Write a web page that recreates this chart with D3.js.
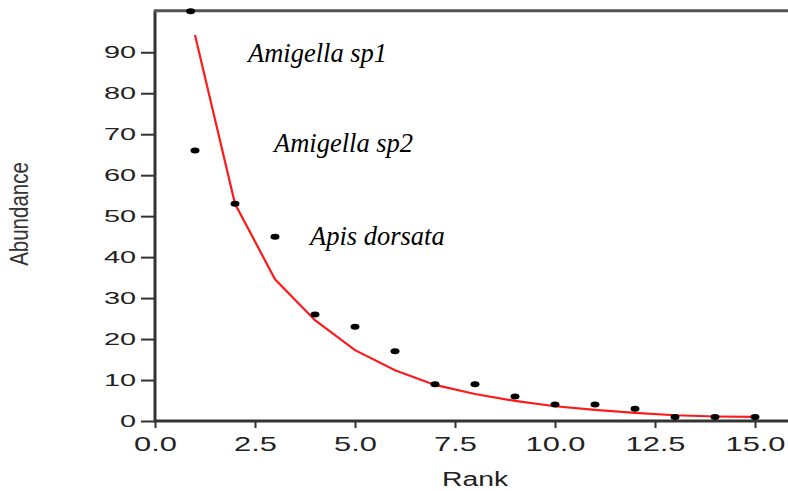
<!DOCTYPE html>
<html><head><meta charset="utf-8">
<script src="https://cdn.jsdelivr.net/npm/d3@7"></script>
<style>body{margin:0;background:#fff}svg{display:block}</style>
</head><body>
<script>
// Observed abundances (rank -> abundance)
const obsRank = [0.89, 1, 2, 3, 4, 5, 6, 7, 8, 9, 10, 11, 12, 13, 14, 15];
const obsAbund = [100, 66, 53, 45, 26, 23, 17, 9, 9, 6, 4, 4, 3, 1, 1, 1];
// Fitted model (red line)
const fitRank = [1, 2, 3, 4, 5, 6, 7, 8, 9, 10, 11, 12, 13, 14, 15];
const fitAbund = [94.2, 53, 34.6, 24.6, 17.3, 12.4, 8.8, 6.6, 4.9, 3.6, 2.7, 2.0, 1.4, 1.1, 1.0];
const xTicks = [0, 2.5, 5, 7.5, 10, 12.5, 15];
const yTicks = [0, 10, 20, 30, 40, 50, 60, 70, 80, 90];
const labelText = ["Amigella sp1", "Amigella sp2", "Apis dorsata"];
const labelRank = [2.325, 2.975, 3.875];
const labelAbund = [87.6, 65.7, 43];

const W = 788, H = 491;
const svg = d3.select("body").append("svg").attr("width", W).attr("height", H);
const x = d3.scaleLinear().domain([0, 15.8]).range([155, 787]);
const y = d3.scaleLinear().domain([0, 100]).range([421, 11.3]);
const axisColor = "#333";

// Y axis
const gy = svg.append("g").attr("transform", `translate(${x(0)},0)`)
  .call(d3.axisLeft(y).tickValues(yTicks).tickSize(14).tickPadding(5).tickFormat(d3.format("d")));
gy.select(".domain").remove();
gy.selectAll(".tick line").attr("stroke", axisColor).attr("stroke-width", 2);
gy.selectAll(".tick text").attr("font-family", "Liberation Sans, Arial, sans-serif")
  .attr("font-size", 17).attr("fill", "#222")
  .attr("transform", function(){ const xx = +d3.select(this).attr("x"); return `translate(${xx},0) scale(1.7,1) translate(${-xx},0)`; });

// X axis
const gx = svg.append("g").attr("transform", `translate(0,${y(0)})`)
  .call(d3.axisBottom(x).tickValues(xTicks).tickSize(7).tickPadding(8).tickFormat(d3.format(".1f")));
gx.select(".domain").remove();
gx.selectAll(".tick line").attr("stroke", axisColor).attr("stroke-width", 2);
gx.selectAll(".tick text").attr("font-family", "Liberation Sans, Arial, sans-serif")
  .attr("font-size", 21).attr("fill", "#222")
  .attr("transform", "scale(1.47,1)");

// Frame lines
svg.append("line").attr("x1", x(0)).attr("x2", x(0)).attr("y1", y(100) - 1).attr("y2", y(0) + 1)
  .attr("stroke", axisColor).attr("stroke-width", 3);
svg.append("line").attr("x1", x(0) - 1).attr("x2", W).attr("y1", y(0)).attr("y2", y(0))
  .attr("stroke", axisColor).attr("stroke-width", 3);
svg.append("line").attr("x1", x(0) - 1).attr("x2", W).attr("y1", y(100) - 0.5).attr("y2", y(100) - 0.5)
  .attr("stroke", "#555").attr("stroke-width", 3);

// Fitted line
const fit = fitRank.map((r, i) => [r, fitAbund[i]]);
svg.append("path").datum(fit)
  .attr("d", d3.line().x(d => x(d[0])).y(d => y(d[1])))
  .attr("fill", "none").attr("stroke", "#ff1a1a").attr("stroke-width", 2.2);

// Observed points
const obs = obsRank.map((r, i) => [r, obsAbund[i]]);
svg.append("g").selectAll("ellipse").data(obs).join("ellipse")
  .attr("cx", d => x(d[0])).attr("cy", d => y(d[1]))
  .attr("rx", 4.5).attr("ry", 3).attr("fill", "#000");

// Species annotations
svg.append("g").selectAll("text").data(labelText).join("text")
  .attr("x", (d, i) => x(labelRank[i])).attr("y", (d, i) => y(labelAbund[i]))
  .attr("font-family", "Liberation Serif, Times New Roman, serif")
  .attr("font-style", "italic").attr("font-size", 26.5).attr("fill", "#000")
  .text(d => d);

// Axis titles
svg.append("text").attr("transform", "translate(475,486) scale(1.35,1)")
  .attr("text-anchor", "middle").attr("font-family", "Liberation Sans, Arial, sans-serif")
  .attr("font-size", 21).attr("fill", "#222").text("Rank");
svg.append("text").attr("transform", "translate(28,214) scale(1.3,1) rotate(-90)")
  .attr("text-anchor", "middle").attr("font-family", "Liberation Sans, Arial, sans-serif")
  .attr("font-size", 20.5).attr("fill", "#333").text("Abundance");
</script>
</body></html>
